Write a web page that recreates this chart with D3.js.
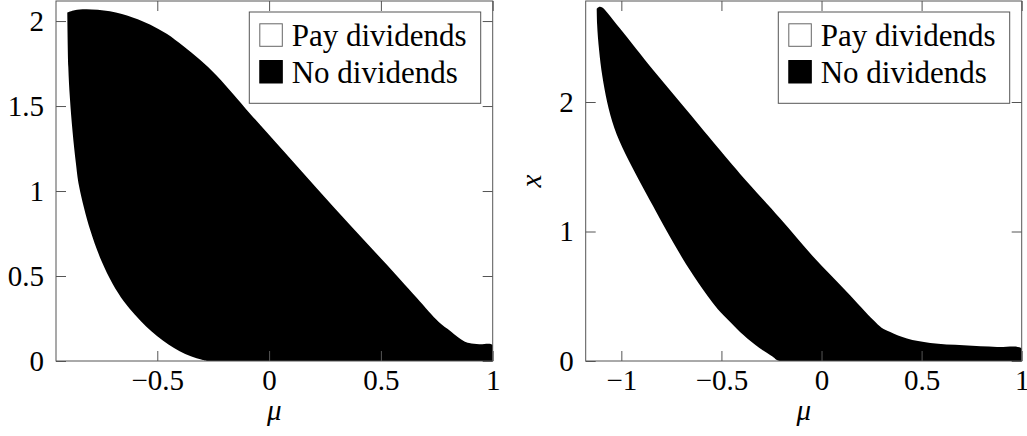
<!DOCTYPE html>
<html>
<head>
<meta charset="utf-8">
<script src="https://cdn.jsdelivr.net/npm/d3@7"></script>
<style>
  body { margin: 0; background: #fff; }
</style>
</head>
<body>
<script>
// Boundaries of the "no dividends" region as [mu, x] pairs.
// Upper boundary goes left to right, lower boundary goes from the tip down to x = 0.
const leftUpper = [
    [-0.9025, 2.051], [-0.87, 2.064], [-0.816, 2.069], [-0.712, 2.057], [-0.607, 2.02],
    [-0.533, 1.98], [-0.458, 1.925], [-0.384, 1.853], [-0.309, 1.772], [-0.235, 1.68],
    [-0.16, 1.57], [-0.085, 1.455], [0.0635, 1.237], [0.213, 1.016], [0.362, 0.8],
    [0.511, 0.588], [0.66, 0.372], [0.76, 0.228], [0.809, 0.178], [0.845, 0.14],
    [0.87, 0.118], [0.895, 0.106], [0.94, 0.099], [1.0, 0.094]
];
const leftLower = [
    [-0.9025, 2.051], [-0.898, 1.73], [-0.891, 1.55], [-0.879, 1.35], [-0.864, 1.163],
    [-0.85, 1.03], [-0.8, 0.77], [-0.75, 0.59], [-0.7, 0.455], [-0.65, 0.352],
    [-0.6, 0.272], [-0.55, 0.203], [-0.5, 0.145], [-0.45, 0.097], [-0.4, 0.058],
    [-0.35, 0.028], [-0.3, 0.008], [-0.272, 0]
];
const rightUpper = [
    [-1.123, 2.72], [-1.11, 2.735], [-1.095, 2.73], [-1.073, 2.695], [-1.0065, 2.567],
    [-0.84, 2.245], [-0.673, 1.936], [-0.5065, 1.627], [-0.4065, 1.445], [-0.2065, 1.10],
    [-0.04, 0.803], [0.127, 0.533], [0.26, 0.314], [0.30, 0.257], [0.3435, 0.224],
    [0.427, 0.173], [0.5435, 0.139], [0.71, 0.121], [0.877, 0.108], [1.0, 0.096]
];
const rightLower = [
    [-1.123, 2.72], [-1.121, 2.6], [-1.117, 2.5], [-1.111, 2.4], [-1.104, 2.3],
    [-1.095, 2.2], [-1.084, 2.1], [-1.071, 2.0], [-1.055, 1.9], [-1.035, 1.8],
    [-1.01, 1.7], [-0.98, 1.6], [-0.947, 1.5], [-0.913, 1.4], [-0.878, 1.3],
    [-0.843, 1.2], [-0.808, 1.1], [-0.772, 1.0], [-0.735, 0.9], [-0.697, 0.8],
    [-0.657, 0.7], [-0.614, 0.6], [-0.568, 0.5], [-0.518, 0.4], [-0.455, 0.3],
    [-0.39, 0.2], [-0.31, 0.1], [-0.245, 0.035], [-0.21, 0]
];

// Tick values
const leftXTicks = [-0.5, 0, 0.5, 1];
const leftYTicks = [0, 0.5, 1, 1.5, 2];
const rightXTicks = [-1, -0.5, 0, 0.5, 1];
const rightYTicks = [0, 1, 2];

// Legend entries
const legendLabels = ["Pay dividends", "No dividends"];

const width = 1027;
const height = 436;
const tickLen = 10;
const frameColor = "#555";
const fontFamily = "Liberation Serif";

const svg = d3.select("body")
    .append("svg")
    .attr("width", width)
    .attr("height", height);

function drawPanel(p) {
    const x = d3.scaleLinear().domain(p.xDomain).range([p.left, p.right]);
    const y = d3.scaleLinear().domain(p.yDomain).range([p.bottom, p.top]);
    const g = svg.append("g");

    // clip the region to the plot box
    const clipId = "clip-" + p.name;
    svg.append("clipPath")
        .attr("id", clipId)
        .append("rect")
        .attr("x", p.left)
        .attr("y", p.top)
        .attr("width", p.right - p.left)
        .attr("height", p.bottom - p.top);

    // outline: upper boundary, down the right edge, back along the lower boundary
    const xMax = p.xDomain[1];
    const outline = p.upper.concat([[xMax, 0]], p.lower.slice().reverse());
    const line = d3.line()
        .x(d => x(d[0]))
        .y(d => y(d[1]))
        .curve(d3.curveCatmullRom.alpha(0.5));

    g.append("path")
        .attr("clip-path", `url(#${clipId})`)
        .attr("d", line(outline) + "Z")
        .attr("fill", "#000");

    // axes, ticks pointing inwards on all four sides
    const fmt = d3.format("");
    const bottomAxis = g.append("g")
        .attr("transform", `translate(0,${p.bottom})`)
        .call(d3.axisBottom(x).tickValues(p.xTicks).tickSize(-tickLen).tickPadding(8).tickFormat(fmt));
    const leftAxis = g.append("g")
        .attr("transform", `translate(${p.left},0)`)
        .call(d3.axisLeft(y).tickValues(p.yTicks).tickSize(-tickLen).tickPadding(12).tickFormat(fmt));
    g.append("g")
        .attr("transform", `translate(0,${p.top})`)
        .call(d3.axisTop(x).tickValues(p.xTicks).tickSize(-tickLen).tickFormat(""));
    g.append("g")
        .attr("transform", `translate(${p.right},0)`)
        .call(d3.axisRight(y).tickValues(p.yTicks).tickSize(-tickLen).tickFormat(""));

    g.selectAll(".domain").remove();
    g.selectAll(".tick line").attr("stroke", frameColor);
    [bottomAxis, leftAxis].forEach(a => a.attr("font-size", 29).attr("font-family", fontFamily));
    g.selectAll(".tick text").attr("fill", "#000");

    // frame
    g.append("rect")
        .attr("x", p.left)
        .attr("y", p.top)
        .attr("width", p.right - p.left)
        .attr("height", p.bottom - p.top)
        .attr("fill", "none")
        .attr("stroke", frameColor)
        .attr("stroke-width", 1);

    // axis labels
    g.append("text")
        .attr("x", (p.left + p.right) / 2)
        .attr("y", 420)
        .attr("text-anchor", "middle")
        .attr("font-family", fontFamily)
        .attr("font-size", 29)
        .attr("font-style", "italic")
        .text("μ");

    if (p.yLabel) {
        g.append("text")
            .attr("transform", `translate(${p.left - 45},${(p.top + p.bottom) / 2}) rotate(-90)`)
            .attr("text-anchor", "middle")
            .attr("font-family", fontFamily)
            .attr("font-size", 29)
            .attr("font-style", "italic")
            .text(p.yLabel);
    }

    // legend in the upper right corner
    const lw = 231.4, lh = 91.3;
    const lg = g.append("g")
        .attr("transform", `translate(${p.right - 12 - lw},${p.top + 11})`);
    lg.append("rect")
        .attr("width", lw)
        .attr("height", lh)
        .attr("fill", "#fff")
        .attr("stroke", frameColor);
    const item = lg.selectAll("g.item")
        .data(legendLabels)
        .enter()
        .append("g")
        .attr("class", "item")
        .attr("transform", (d, i) => `translate(10,${11.3 + i * 36.7})`);
    item.append("rect")
        .attr("x", 0.5)
        .attr("y", 0.5)
        .attr("width", 22.5)
        .attr("height", 22.5)
        .attr("fill", (d, i) => i === 0 ? "#fff" : "#000")
        .attr("stroke", (d, i) => i === 0 ? "#666" : "#000");
    item.append("text")
        .attr("x", 32.4)
        .attr("y", 22.7)
        .attr("font-family", fontFamily)
        .attr("font-size", 31)
        .text(d => d);
}

drawPanel({
    name: "left",
    left: 56, right: 492.7, top: 1, bottom: 361,
    xDomain: [-0.953, 1], yDomain: [0, 2.118],
    xTicks: leftXTicks, yTicks: leftYTicks,
    upper: leftUpper, lower: leftLower
});

drawPanel({
    name: "right",
    left: 585.7, right: 1021.7, top: 1, bottom: 361,
    xDomain: [-1.178, 1], yDomain: [0, 2.78],
    xTicks: rightXTicks, yTicks: rightYTicks,
    upper: rightUpper, lower: rightLower,
    yLabel: "x"
});
</script>
</body>
</html>
